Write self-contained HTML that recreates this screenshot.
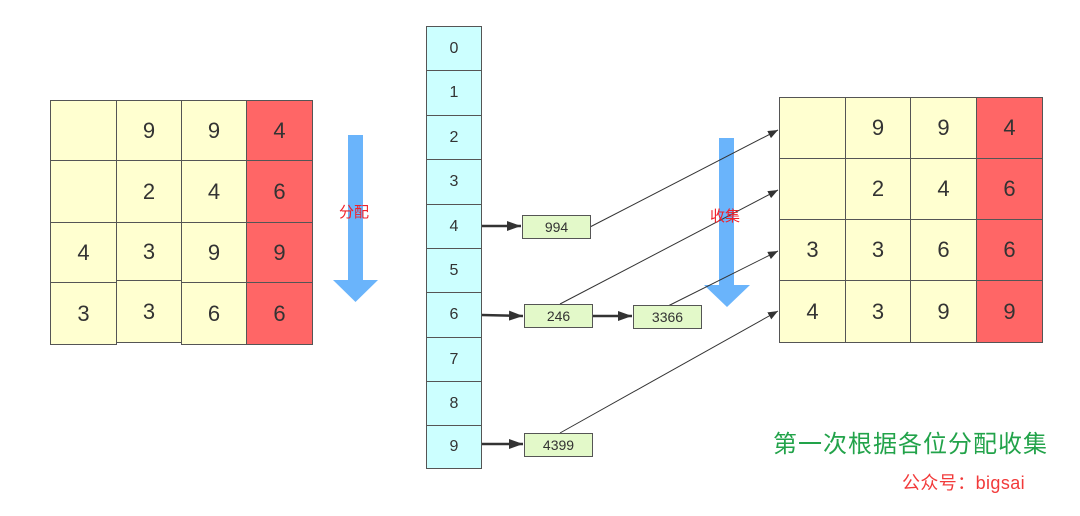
<!DOCTYPE html>
<html><head><meta charset="utf-8"><style>
body{margin:0;width:1080px;height:516px;background:#fff;position:relative;overflow:hidden;font-family:"Liberation Sans","Noto Sans CJK SC",sans-serif;}
.c{position:absolute;box-sizing:border-box;border:1.5px solid #555;display:flex;align-items:center;justify-content:center;color:#333;}
.y{background:#ffffd0;font-size:22px;}
.r{background:#ff6666;font-size:22px;}
.b{background:#ccffff;font-size:16px;}
.n{background:#e3f9c9;font-size:14px;}
.t{position:absolute;white-space:nowrap;}
</style></head><body>
<svg width="1080" height="516" style="position:absolute;left:0;top:0">
<defs><marker id="a" markerWidth="10" markerHeight="8" refX="10" refY="4" orient="auto" markerUnits="userSpaceOnUse"><path d="M0,0L10,4L0,8z" fill="#333"/></marker>
<marker id="b" markerWidth="14" markerHeight="10" refX="14" refY="5" orient="auto" markerUnits="userSpaceOnUse"><path d="M0,0L14,5L0,10z" fill="#333"/></marker></defs>
<rect x="348" y="135" width="15" height="146" fill="#6ab4fb"/>
<path d="M333,280L378,280L355.5,302z" fill="#6ab4fb"/>
<rect x="719" y="138" width="15" height="148" fill="#6ab4fb"/>
<path d="M704,285L750,285L727,307z" fill="#6ab4fb"/>
<g stroke="#333" stroke-width="1" fill="none" marker-end="url(#a)">
<line x1="590" y1="227" x2="778" y2="130"/>
<line x1="560" y1="304" x2="778" y2="190"/>
<line x1="668" y1="306" x2="778" y2="251"/>
<line x1="560" y1="433" x2="778" y2="311"/>
</g>
<g stroke="#333" stroke-width="2.5" fill="none" marker-end="url(#b)">
<line x1="482" y1="226" x2="521" y2="226"/>
<line x1="482" y1="315" x2="523" y2="316"/>
<line x1="592" y1="316" x2="632" y2="316"/>
<line x1="482" y1="444" x2="523" y2="444"/>
</g>
</svg>
<div class="c y" style="left:50px;top:100px;width:67px;height:61px"></div>
<div class="c y" style="left:116px;top:100px;width:66px;height:61px">9</div>
<div class="c y" style="left:181px;top:100px;width:66px;height:61px">9</div>
<div class="c r" style="left:246px;top:100px;width:67px;height:61px">4</div>
<div class="c y" style="left:50px;top:160px;width:67px;height:63px"></div>
<div class="c y" style="left:116px;top:160px;width:66px;height:63px">2</div>
<div class="c y" style="left:181px;top:160px;width:66px;height:63px">4</div>
<div class="c r" style="left:246px;top:160px;width:67px;height:63px">6</div>
<div class="c y" style="left:50px;top:222px;width:67px;height:61px">4</div>
<div class="c y" style="left:116px;top:222px;width:66px;height:59px">3</div>
<div class="c y" style="left:181px;top:222px;width:66px;height:61px">9</div>
<div class="c r" style="left:246px;top:222px;width:67px;height:61px">9</div>
<div class="c y" style="left:50px;top:282px;width:67px;height:63px">3</div>
<div class="c y" style="left:116px;top:280px;width:66px;height:63px">3</div>
<div class="c y" style="left:181px;top:282px;width:66px;height:63px">6</div>
<div class="c r" style="left:246px;top:282px;width:67px;height:63px">6</div>
<div class="c b" style="left:426px;top:26px;width:56px;height:45px">0</div>
<div class="c b" style="left:426px;top:70px;width:56px;height:46px">1</div>
<div class="c b" style="left:426px;top:115px;width:56px;height:45px">2</div>
<div class="c b" style="left:426px;top:159px;width:56px;height:46px">3</div>
<div class="c b" style="left:426px;top:204px;width:56px;height:45px">4</div>
<div class="c b" style="left:426px;top:248px;width:56px;height:45px">5</div>
<div class="c b" style="left:426px;top:292px;width:56px;height:46px">6</div>
<div class="c b" style="left:426px;top:337px;width:56px;height:45px">7</div>
<div class="c b" style="left:426px;top:381px;width:56px;height:45px">8</div>
<div class="c b" style="left:426px;top:425px;width:56px;height:44px">9</div>
<div class="c n" style="left:522px;top:215px;width:69px;height:24px">994</div>
<div class="c n" style="left:524px;top:304px;width:69px;height:24px">246</div>
<div class="c n" style="left:633px;top:305px;width:69px;height:24px">3366</div>
<div class="c n" style="left:524px;top:433px;width:69px;height:24px">4399</div>
<div class="c y" style="left:779px;top:97px;width:67px;height:62px"></div>
<div class="c y" style="left:845px;top:97px;width:66px;height:62px">9</div>
<div class="c y" style="left:910px;top:97px;width:67px;height:62px">9</div>
<div class="c r" style="left:976px;top:97px;width:67px;height:62px">4</div>
<div class="c y" style="left:779px;top:158px;width:67px;height:62px"></div>
<div class="c y" style="left:845px;top:158px;width:66px;height:62px">2</div>
<div class="c y" style="left:910px;top:158px;width:67px;height:62px">4</div>
<div class="c r" style="left:976px;top:158px;width:67px;height:62px">6</div>
<div class="c y" style="left:779px;top:219px;width:67px;height:62px">3</div>
<div class="c y" style="left:845px;top:219px;width:66px;height:62px">3</div>
<div class="c y" style="left:910px;top:219px;width:67px;height:62px">6</div>
<div class="c r" style="left:976px;top:219px;width:67px;height:62px">6</div>
<div class="c y" style="left:779px;top:280px;width:67px;height:63px">4</div>
<div class="c y" style="left:845px;top:280px;width:66px;height:63px">3</div>
<div class="c y" style="left:910px;top:280px;width:67px;height:63px">9</div>
<div class="c r" style="left:976px;top:280px;width:67px;height:63px">9</div>
<div class="t" style="left:339px;top:201px;font-size:15px;color:#f0202a;">分配</div>
<div class="t" style="left:710px;top:205px;font-size:15px;color:#f0202a;">收集</div>
<div class="t" style="left:773px;top:424px;font-size:24px;color:#22a34a;letter-spacing:1px;">第一次根据各位分配收集</div>
<div class="t" style="left:902px;top:469px;font-size:18px;color:#f23a3a;letter-spacing:0.4px;">公众号：bigsai</div>
</body></html>
